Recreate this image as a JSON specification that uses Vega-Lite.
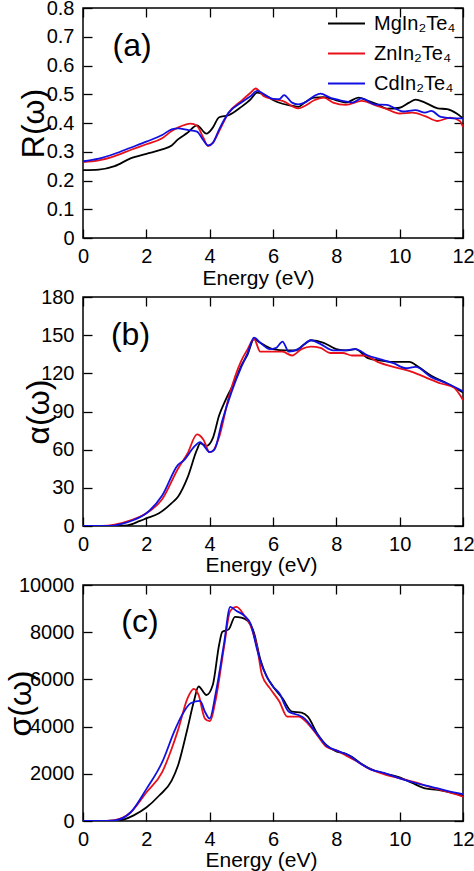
{
 "$schema": "https://vega.github.io/schema/vega-lite/v6.json",
 "autosize": {"type": "pad"},
 "padding": {"left": 3, "top": -3, "right": 0, "bottom": 0},
 "background": "white",
 "config": {
  "font": "Liberation Sans",
  "view": {"stroke": "black", "strokeWidth": 1.5},
  "axis": {"grid": false, "domain": false, "tickSize": -9, "tickWidth": 1.3, "tickColor": "black", "labelFontSize": 20, "labelColor": "black", "labelFont": "Liberation Sans", "titleFont": "Liberation Sans", "titleColor": "black", "titleFontWeight": "normal", "labelFlush": false, "labelOverlap": false, "format": "d"},
  "axisX": {"labelPadding": 17, "titleFontSize": 21},
  "axisY": {"labelPadding": 18, "titleFontSize": 32},
  "line": {"strokeWidth": 1.8, "interpolate": "monotone"},
  "text": {"font": "Liberation Sans", "fontSize": 32, "color": "black"}
 },
 "resolve": {"legend": {"color": "independent"}},
 "spacing": 59,
 "bounds": "flush",
 "datasets": {
  "R": [
   {"m":"Mg","E":0,"v":0.236},{"m":"Mg","E":0.5,"v":0.238},{"m":"Mg","E":1,"v":0.25},{"m":"Mg","E":1.5,"v":0.277},{"m":"Mg","E":2,"v":0.293},{"m":"Mg","E":2.5,"v":0.308},{"m":"Mg","E":2.8,"v":0.322},{"m":"Mg","E":3,"v":0.343},{"m":"Mg","E":3.3,"v":0.366},{"m":"Mg","E":3.6,"v":0.392},{"m":"Mg","E":3.9,"v":0.363},{"m":"Mg","E":4.1,"v":0.384},{"m":"Mg","E":4.3,"v":0.42},{"m":"Mg","E":4.6,"v":0.427},{"m":"Mg","E":5,"v":0.456},{"m":"Mg","E":5.3,"v":0.483},{"m":"Mg","E":5.5,"v":0.506},{"m":"Mg","E":5.8,"v":0.494},{"m":"Mg","E":6,"v":0.48},{"m":"Mg","E":6.3,"v":0.467},{"m":"Mg","E":6.6,"v":0.46},{"m":"Mg","E":6.8,"v":0.456},{"m":"Mg","E":7,"v":0.471},{"m":"Mg","E":7.3,"v":0.488},{"m":"Mg","E":7.6,"v":0.49},{"m":"Mg","E":8,"v":0.479},{"m":"Mg","E":8.3,"v":0.471},{"m":"Mg","E":8.7,"v":0.488},{"m":"Mg","E":9,"v":0.477},{"m":"Mg","E":9.3,"v":0.465},{"m":"Mg","E":9.6,"v":0.45},{"m":"Mg","E":10,"v":0.453},{"m":"Mg","E":10.3,"v":0.471},{"m":"Mg","E":10.5,"v":0.481},{"m":"Mg","E":10.8,"v":0.471},{"m":"Mg","E":11.2,"v":0.451},{"m":"Mg","E":11.5,"v":0.448},{"m":"Mg","E":11.8,"v":0.433},{"m":"Mg","E":12,"v":0.416},
   {"m":"Zn","E":0,"v":0.264},{"m":"Zn","E":0.5,"v":0.27},{"m":"Zn","E":1,"v":0.285},{"m":"Zn","E":1.5,"v":0.306},{"m":"Zn","E":2,"v":0.326},{"m":"Zn","E":2.5,"v":0.347},{"m":"Zn","E":2.8,"v":0.372},{"m":"Zn","E":3,"v":0.384},{"m":"Zn","E":3.4,"v":0.398},{"m":"Zn","E":3.6,"v":0.39},{"m":"Zn","E":3.8,"v":0.349},{"m":"Zn","E":3.95,"v":0.32},{"m":"Zn","E":4.1,"v":0.331},{"m":"Zn","E":4.3,"v":0.372},{"m":"Zn","E":4.6,"v":0.436},{"m":"Zn","E":5,"v":0.477},{"m":"Zn","E":5.3,"v":0.506},{"m":"Zn","E":5.45,"v":0.52},{"m":"Zn","E":5.7,"v":0.494},{"m":"Zn","E":6,"v":0.483},{"m":"Zn","E":6.3,"v":0.477},{"m":"Zn","E":6.8,"v":0.451},{"m":"Zn","E":7,"v":0.459},{"m":"Zn","E":7.3,"v":0.479},{"m":"Zn","E":7.6,"v":0.488},{"m":"Zn","E":7.9,"v":0.471},{"m":"Zn","E":8.3,"v":0.463},{"m":"Zn","E":8.8,"v":0.477},{"m":"Zn","E":9.2,"v":0.463},{"m":"Zn","E":9.6,"v":0.448},{"m":"Zn","E":10,"v":0.433},{"m":"Zn","E":10.4,"v":0.436},{"m":"Zn","E":10.8,"v":0.424},{"m":"Zn","E":11.2,"v":0.407},{"m":"Zn","E":11.6,"v":0.419},{"m":"Zn","E":11.9,"v":0.407},{"m":"Zn","E":12,"v":0.386},
   {"m":"Cd","E":0,"v":0.267},{"m":"Cd","E":0.5,"v":0.276},{"m":"Cd","E":1,"v":0.293},{"m":"Cd","E":1.5,"v":0.314},{"m":"Cd","E":2,"v":0.335},{"m":"Cd","E":2.5,"v":0.358},{"m":"Cd","E":2.8,"v":0.378},{"m":"Cd","E":3,"v":0.381},{"m":"Cd","E":3.3,"v":0.376},{"m":"Cd","E":3.6,"v":0.37},{"m":"Cd","E":3.8,"v":0.34},{"m":"Cd","E":3.95,"v":0.322},{"m":"Cd","E":4.1,"v":0.331},{"m":"Cd","E":4.3,"v":0.378},{"m":"Cd","E":4.6,"v":0.436},{"m":"Cd","E":5,"v":0.471},{"m":"Cd","E":5.3,"v":0.494},{"m":"Cd","E":5.5,"v":0.512},{"m":"Cd","E":5.8,"v":0.494},{"m":"Cd","E":6,"v":0.484},{"m":"Cd","E":6.2,"v":0.483},{"m":"Cd","E":6.35,"v":0.497},{"m":"Cd","E":6.6,"v":0.471},{"m":"Cd","E":6.8,"v":0.465},{"m":"Cd","E":7,"v":0.471},{"m":"Cd","E":7.3,"v":0.494},{"m":"Cd","E":7.5,"v":0.502},{"m":"Cd","E":7.8,"v":0.488},{"m":"Cd","E":8.2,"v":0.477},{"m":"Cd","E":8.5,"v":0.471},{"m":"Cd","E":8.8,"v":0.486},{"m":"Cd","E":9.2,"v":0.465},{"m":"Cd","E":9.6,"v":0.463},{"m":"Cd","E":9.9,"v":0.448},{"m":"Cd","E":10.1,"v":0.44},{"m":"Cd","E":10.5,"v":0.445},{"m":"Cd","E":10.8,"v":0.436},{"m":"Cd","E":11,"v":0.442},{"m":"Cd","E":11.3,"v":0.421},{"m":"Cd","E":11.7,"v":0.416},{"m":"Cd","E":12,"v":0.416}
  ],
  "A": [
   {"m":"Mg","E":0,"v":0},{"m":"Mg","E":1,"v":0},{"m":"Mg","E":1.4,"v":0.5},{"m":"Mg","E":1.8,"v":4},{"m":"Mg","E":2,"v":6},{"m":"Mg","E":2.4,"v":10},{"m":"Mg","E":2.8,"v":18},{"m":"Mg","E":3,"v":23},{"m":"Mg","E":3.3,"v":38},{"m":"Mg","E":3.6,"v":60},{"m":"Mg","E":3.7,"v":65},{"m":"Mg","E":3.9,"v":63},{"m":"Mg","E":4.1,"v":69},{"m":"Mg","E":4.3,"v":87},{"m":"Mg","E":4.5,"v":99},{"m":"Mg","E":4.8,"v":114},{"m":"Mg","E":5,"v":126},{"m":"Mg","E":5.2,"v":135},{"m":"Mg","E":5.4,"v":147},{"m":"Mg","E":5.6,"v":144},{"m":"Mg","E":6,"v":139},{"m":"Mg","E":6.4,"v":138},{"m":"Mg","E":6.7,"v":138},{"m":"Mg","E":7,"v":143},{"m":"Mg","E":7.2,"v":146},{"m":"Mg","E":7.6,"v":144},{"m":"Mg","E":8,"v":139},{"m":"Mg","E":8.3,"v":138},{"m":"Mg","E":8.6,"v":139},{"m":"Mg","E":9,"v":132},{"m":"Mg","E":9.4,"v":130},{"m":"Mg","E":9.8,"v":129},{"m":"Mg","E":10.3,"v":129},{"m":"Mg","E":10.6,"v":125},{"m":"Mg","E":11,"v":118},{"m":"Mg","E":11.5,"v":112},{"m":"Mg","E":12,"v":105},
   {"m":"Zn","E":0,"v":0},{"m":"Zn","E":0.6,"v":0},{"m":"Zn","E":1,"v":1},{"m":"Zn","E":1.5,"v":4.4},{"m":"Zn","E":2,"v":10},{"m":"Zn","E":2.5,"v":21},{"m":"Zn","E":3,"v":45},{"m":"Zn","E":3.3,"v":57},{"m":"Zn","E":3.6,"v":72},{"m":"Zn","E":3.8,"v":68},{"m":"Zn","E":4,"v":58},{"m":"Zn","E":4.1,"v":59},{"m":"Zn","E":4.3,"v":70},{"m":"Zn","E":4.6,"v":101},{"m":"Zn","E":5,"v":130},{"m":"Zn","E":5.2,"v":139},{"m":"Zn","E":5.4,"v":147},{"m":"Zn","E":5.6,"v":137},{"m":"Zn","E":6,"v":137},{"m":"Zn","E":6.3,"v":137},{"m":"Zn","E":6.6,"v":134},{"m":"Zn","E":6.9,"v":139},{"m":"Zn","E":7.2,"v":141},{"m":"Zn","E":7.5,"v":140},{"m":"Zn","E":7.8,"v":136},{"m":"Zn","E":8.2,"v":136},{"m":"Zn","E":8.5,"v":134},{"m":"Zn","E":8.9,"v":134},{"m":"Zn","E":9.3,"v":129},{"m":"Zn","E":9.8,"v":125},{"m":"Zn","E":10.3,"v":122},{"m":"Zn","E":10.8,"v":117},{"m":"Zn","E":11.3,"v":112},{"m":"Zn","E":11.7,"v":109},{"m":"Zn","E":12,"v":99},
   {"m":"Cd","E":0,"v":0},{"m":"Cd","E":0.8,"v":0},{"m":"Cd","E":1.2,"v":1.5},{"m":"Cd","E":1.6,"v":4.7},{"m":"Cd","E":2,"v":10},{"m":"Cd","E":2.5,"v":24},{"m":"Cd","E":3,"v":48},{"m":"Cd","E":3.2,"v":52},{"m":"Cd","E":3.5,"v":62},{"m":"Cd","E":3.7,"v":66},{"m":"Cd","E":3.85,"v":62},{"m":"Cd","E":4,"v":58},{"m":"Cd","E":4.15,"v":60},{"m":"Cd","E":4.4,"v":83},{"m":"Cd","E":4.7,"v":106},{"m":"Cd","E":5,"v":125},{"m":"Cd","E":5.2,"v":136},{"m":"Cd","E":5.4,"v":148},{"m":"Cd","E":5.6,"v":144},{"m":"Cd","E":5.9,"v":139},{"m":"Cd","E":6.1,"v":140},{"m":"Cd","E":6.3,"v":145},{"m":"Cd","E":6.5,"v":137},{"m":"Cd","E":6.8,"v":139},{"m":"Cd","E":7.2,"v":146},{"m":"Cd","E":7.5,"v":143},{"m":"Cd","E":7.9,"v":138},{"m":"Cd","E":8.2,"v":138},{"m":"Cd","E":8.6,"v":139},{"m":"Cd","E":9,"v":134},{"m":"Cd","E":9.4,"v":131},{"m":"Cd","E":9.8,"v":128},{"m":"Cd","E":10.2,"v":124},{"m":"Cd","E":10.5,"v":125},{"m":"Cd","E":11,"v":117},{"m":"Cd","E":11.5,"v":112},{"m":"Cd","E":12,"v":106}
  ],
  "S": [
   {"m":"Mg","E":0,"v":0},{"m":"Mg","E":1,"v":0},{"m":"Mg","E":1.3,"v":70},{"m":"Mg","E":1.6,"v":240},{"m":"Mg","E":2,"v":570},{"m":"Mg","E":2.4,"v":1070},{"m":"Mg","E":2.8,"v":1710},{"m":"Mg","E":3,"v":2350},{"m":"Mg","E":3.3,"v":3920},{"m":"Mg","E":3.5,"v":5060},{"m":"Mg","E":3.65,"v":5700},{"m":"Mg","E":3.9,"v":5340},{"m":"Mg","E":4.1,"v":5770},{"m":"Mg","E":4.3,"v":7480},{"m":"Mg","E":4.4,"v":8020},{"m":"Mg","E":4.6,"v":8120},{"m":"Mg","E":4.8,"v":8650},{"m":"Mg","E":5,"v":8620},{"m":"Mg","E":5.2,"v":8480},{"m":"Mg","E":5.4,"v":7980},{"m":"Mg","E":5.6,"v":6840},{"m":"Mg","E":5.8,"v":6130},{"m":"Mg","E":6,"v":5700},{"m":"Mg","E":6.3,"v":5200},{"m":"Mg","E":6.6,"v":4630},{"m":"Mg","E":6.9,"v":4590},{"m":"Mg","E":7.1,"v":4420},{"m":"Mg","E":7.4,"v":3700},{"m":"Mg","E":7.7,"v":3200},{"m":"Mg","E":8,"v":2950},{"m":"Mg","E":8.3,"v":2850},{"m":"Mg","E":8.5,"v":2710},{"m":"Mg","E":8.8,"v":2420},{"m":"Mg","E":9.2,"v":2140},{"m":"Mg","E":9.6,"v":1990},{"m":"Mg","E":10,"v":1850},{"m":"Mg","E":10.4,"v":1610},{"m":"Mg","E":10.8,"v":1380},{"m":"Mg","E":11.2,"v":1320},{"m":"Mg","E":11.6,"v":1210},{"m":"Mg","E":12,"v":1070},
   {"m":"Zn","E":0,"v":0},{"m":"Zn","E":0.5,"v":0},{"m":"Zn","E":1,"v":40},{"m":"Zn","E":1.5,"v":360},{"m":"Zn","E":2,"v":1210},{"m":"Zn","E":2.5,"v":2070},{"m":"Zn","E":2.8,"v":3060},{"m":"Zn","E":3,"v":3850},{"m":"Zn","E":3.3,"v":5200},{"m":"Zn","E":3.5,"v":5600},{"m":"Zn","E":3.65,"v":5340},{"m":"Zn","E":3.85,"v":4340},{"m":"Zn","E":4,"v":4230},{"m":"Zn","E":4.2,"v":5200},{"m":"Zn","E":4.45,"v":7340},{"m":"Zn","E":4.65,"v":8900},{"m":"Zn","E":4.85,"v":9070},{"m":"Zn","E":5.1,"v":8690},{"m":"Zn","E":5.3,"v":8260},{"m":"Zn","E":5.5,"v":7340},{"m":"Zn","E":5.65,"v":6200},{"m":"Zn","E":5.9,"v":5630},{"m":"Zn","E":6.2,"v":5060},{"m":"Zn","E":6.45,"v":4420},{"m":"Zn","E":6.8,"v":4420},{"m":"Zn","E":7.1,"v":4130},{"m":"Zn","E":7.4,"v":3630},{"m":"Zn","E":7.7,"v":3130},{"m":"Zn","E":8,"v":2990},{"m":"Zn","E":8.3,"v":2780},{"m":"Zn","E":8.6,"v":2560},{"m":"Zn","E":9,"v":2240},{"m":"Zn","E":9.5,"v":1990},{"m":"Zn","E":10,"v":1810},{"m":"Zn","E":10.5,"v":1640},{"m":"Zn","E":11,"v":1420},{"m":"Zn","E":11.5,"v":1240},{"m":"Zn","E":12,"v":1030},
   {"m":"Cd","E":0,"v":0},{"m":"Cd","E":0.5,"v":0},{"m":"Cd","E":1,"v":30},{"m":"Cd","E":1.5,"v":360},{"m":"Cd","E":2,"v":1350},{"m":"Cd","E":2.5,"v":2490},{"m":"Cd","E":2.9,"v":3850},{"m":"Cd","E":3.1,"v":4420},{"m":"Cd","E":3.4,"v":4990},{"m":"Cd","E":3.7,"v":5090},{"m":"Cd","E":3.85,"v":4630},{"m":"Cd","E":4,"v":4340},{"m":"Cd","E":4.2,"v":5480},{"m":"Cd","E":4.45,"v":7480},{"m":"Cd","E":4.65,"v":9070},{"m":"Cd","E":4.85,"v":8900},{"m":"Cd","E":5.1,"v":8690},{"m":"Cd","E":5.3,"v":8330},{"m":"Cd","E":5.5,"v":7260},{"m":"Cd","E":5.7,"v":6410},{"m":"Cd","E":6,"v":5700},{"m":"Cd","E":6.2,"v":5410},{"m":"Cd","E":6.5,"v":4630},{"m":"Cd","E":6.8,"v":4490},{"m":"Cd","E":7,"v":4340},{"m":"Cd","E":7.3,"v":3850},{"m":"Cd","E":7.7,"v":3180},{"m":"Cd","E":8,"v":2990},{"m":"Cd","E":8.4,"v":2780},{"m":"Cd","E":8.7,"v":2490},{"m":"Cd","E":9.1,"v":2180},{"m":"Cd","E":9.5,"v":2040},{"m":"Cd","E":10,"v":1810},{"m":"Cd","E":10.5,"v":1610},{"m":"Cd","E":11,"v":1450},{"m":"Cd","E":11.5,"v":1280},{"m":"Cd","E":12,"v":1140}
  ]
 },
 "vconcat": [
  {
   "width": 380, "height": 230,
   "layer": [
    {
     "data": {"name": "R"},
     "mark": {"type": "line", "clip": true},
     "encoding": {
      "x": {"field": "E", "type": "quantitative", "scale": {"domain": [0, 12], "nice": false}, "axis": {"orient": "bottom", "title": "Energy (eV)", "values": [0, 2, 4, 6, 8, 10, 12], "titleX": 175, "titleY": 29}},
      "y": {"field": "v", "type": "quantitative", "scale": {"domain": [0, 0.8], "nice": false}, "axis": {"orient": "left", "title": "R(ω)", "format": ".1~f", "values": [0, 0.1, 0.2, 0.3, 0.4, 0.5, 0.6, 0.7, 0.8], "titleX": -50, "titleBaseline": "middle"}},
      "color": {"field": "m", "type": "nominal", "sort": ["Mg", "Zn", "Cd"], "scale": {"domain": ["Mg", "Zn", "Cd"], "range": ["#000000", "#e8101a", "#1010e0"]},
       "legend": {"orient": "none", "legendX": 244, "legendY": -4, "title": null, "symbolType": "stroke", "symbolSize": 1369, "symbolStrokeWidth": 2.5, "labelFontSize": 20, "labelFont": "Liberation Sans", "labelColor": "black", "rowPadding": -12, "padding": 0, "labelOffset": 8, "labelExpr": "datum.label + 'In₂Te₄'"}}
     }
    },
    {
     "data": {"values": [{"E": 1.55, "v": 0.668, "t": "(a)"}]},
     "mark": {"type": "text"},
     "encoding": {
      "x": {"field": "E", "type": "quantitative", "axis": {"orient": "top", "labels": false, "title": null, "values": [0, 2, 4, 6, 8, 10, 12]}},
      "y": {"field": "v", "type": "quantitative", "axis": {"orient": "right", "labels": false, "title": null, "values": [0, 0.1, 0.2, 0.3, 0.4, 0.5, 0.6, 0.7, 0.8]}},
      "text": {"field": "t"}
     }
    }
   ]
  },
  {
   "width": 380, "height": 229,
   "layer": [
    {
     "data": {"name": "A"},
     "mark": {"type": "line", "clip": true},
     "encoding": {
      "x": {"field": "E", "type": "quantitative", "scale": {"domain": [0, 12], "nice": false}, "axis": {"orient": "bottom", "title": "Energy (eV)", "values": [0, 2, 4, 6, 8, 10, 12], "titleX": 178, "titleY": 28}},
      "y": {"field": "v", "type": "quantitative", "scale": {"domain": [0, 180], "nice": false}, "axis": {"orient": "left", "title": "α(ω)", "values": [0, 30, 60, 90, 120, 150, 180], "titleX": -45, "titleBaseline": "middle"}},
      "color": {"field": "m", "type": "nominal", "sort": ["Mg", "Zn", "Cd"], "scale": {"domain": ["Mg", "Zn", "Cd"], "range": ["#000000", "#e8101a", "#1010e0"]}, "legend": null}
     }
    },
    {
     "data": {"values": [{"E": 1.5, "v": 150, "t": "(b)"}]},
     "mark": {"type": "text"},
     "encoding": {
      "x": {"field": "E", "type": "quantitative", "axis": {"orient": "top", "labels": false, "title": null, "values": [0, 2, 4, 6, 8, 10, 12]}},
      "y": {"field": "v", "type": "quantitative", "axis": {"orient": "right", "labels": false, "title": null, "values": [0, 30, 60, 90, 120, 150, 180]}},
      "text": {"field": "t"}
     }
    }
   ]
  },
  {
   "width": 380, "height": 236,
   "layer": [
    {
     "data": {"name": "S"},
     "mark": {"type": "line", "clip": true},
     "encoding": {
      "x": {"field": "E", "type": "quantitative", "scale": {"domain": [0, 12], "nice": false}, "axis": {"orient": "bottom", "title": "Energy (eV)", "values": [0, 2, 4, 6, 8, 10, 12], "titleX": 178, "titleY": 28}},
      "y": {"field": "v", "type": "quantitative", "scale": {"domain": [0, 10000], "nice": false}, "axis": {"orient": "left", "title": "σ(ω)", "values": [0, 2000, 4000, 6000, 8000, 10000], "titleX": -63, "titleBaseline": "middle"}},
      "color": {"field": "m", "type": "nominal", "sort": ["Mg", "Zn", "Cd"], "scale": {"domain": ["Mg", "Zn", "Cd"], "range": ["#000000", "#e8101a", "#1010e0"]}, "legend": null}
     }
    },
    {
     "data": {"values": [{"E": 1.8, "v": 8420, "t": "(c)"}]},
     "mark": {"type": "text"},
     "encoding": {
      "x": {"field": "E", "type": "quantitative", "axis": {"orient": "top", "labels": false, "title": null, "values": [0, 2, 4, 6, 8, 10, 12]}},
      "y": {"field": "v", "type": "quantitative", "axis": {"orient": "right", "labels": false, "title": null, "values": [0, 2000, 4000, 6000, 8000, 10000]}},
      "text": {"field": "t"}
     }
    }
   ]
  }
 ]
}
